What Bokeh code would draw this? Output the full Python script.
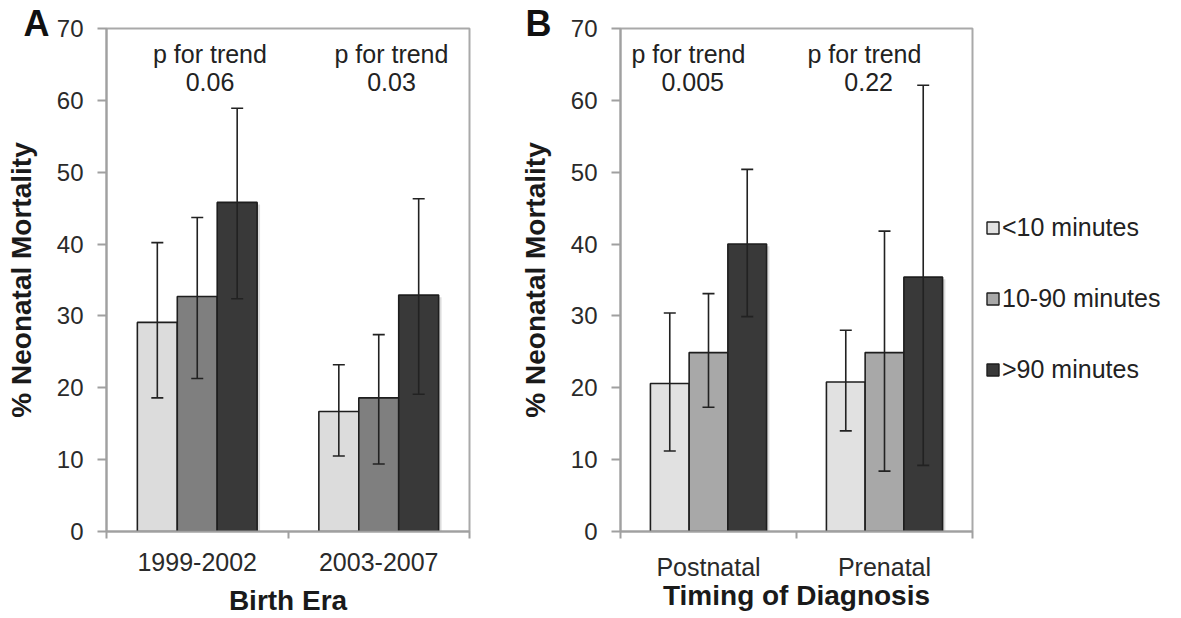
from bokeh.plotting import figure
from bokeh.models import (ColumnDataSource, Range1d, FixedTicker, Whisker, TeeHead,
                          Title, Legend, LegendItem)
from bokeh.core.properties import value
from bokeh.layouts import row
from bokeh.embed import file_html
from bokeh.resources import INLINE

FONT = "Liberation Sans"

# ---------------- data ----------------
series = ["<10 minutes", "10-90 minutes", ">90 minutes"]

# Panel A: Birth Era
era_cats = ["1999-2002", "2003-2007"]
era_lt10 = [29.1, 16.7]
era_lt10_lo = [18.6, 10.5]
era_lt10_hi = [40.2, 23.2]
era_mid = [32.7, 18.6]
era_mid_lo = [21.3, 9.4]
era_mid_hi = [43.7, 27.4]
era_gt90 = [45.8, 32.9]
era_gt90_lo = [32.4, 19.1]
era_gt90_hi = [58.9, 46.3]
era_p = ["0.06", "0.03"]

# Panel B: Timing of Diagnosis
dx_cats = ["Postnatal", "Prenatal"]
dx_lt10 = [20.6, 20.8]
dx_lt10_lo = [11.2, 14.0]
dx_lt10_hi = [30.4, 28.0]
dx_mid = [24.9, 24.9]
dx_mid_lo = [17.3, 8.4]
dx_mid_hi = [33.1, 41.8]
dx_gt90 = [40.0, 35.4]
dx_gt90_lo = [29.9, 9.2]
dx_gt90_hi = [50.4, 62.1]
dx_p = ["0.005", "0.22"]

y_ticks = [0, 10, 20, 30, 40, 50, 60, 70]

colors_A = ["#dcdcdc", "#7f7f7f", "#393939"]
colors_B = ["#e1e1e1", "#a8a8a8", "#393939"]

BAR_W = 0.22
SHADOW_DX = 0.016
FIG_H = 618


def make_panel(cats, vals, los, his, pvals, colors, xlabel, letter,
               width, borders, p_dx, v_dx, letter_off, title_standoff):
    bl, br, bt, bb = borders
    p = figure(width=width, height=FIG_H, x_range=Range1d(0, 2), y_range=Range1d(0, 70),
               output_backend="svg", toolbar_location=None,
               min_border_left=bl, min_border_right=br,
               min_border_top=bt, min_border_bottom=bb)
    p.grid.visible = False
    p.outline_line_color = "#a9a9a9"
    p.outline_line_width = 2
    p.background_fill_color = "white"
    p.border_fill_color = "white"

    centers = [i + 0.5 for i in range(len(cats))]
    for j in range(3):
        off = (j - 1) * BAR_W
        xs = [c + off for c in centers]
        src = ColumnDataSource(dict(x=xs, xs=[x + SHADOW_DX for x in xs],
                                    top=vals[j], st=[v - 0.3 for v in vals[j]],
                                    lo=los[j], hi=his[j]))
        p.vbar(x="xs", top="st", bottom=0, width=BAR_W, source=src,
               fill_color="#9a9a9a", fill_alpha=0.35, line_alpha=0)
        p.vbar(x="x", top="top", bottom=0, width=BAR_W, source=src,
               fill_color=colors[j], line_color="#1e1e1e", line_width=1.6)
        w = Whisker(source=src, base="x", upper="hi", lower="lo", level="overlay",
                    line_color="#222222", line_width=1.6,
                    upper_head=TeeHead(size=12, line_color="#222222", line_width=1.6),
                    lower_head=TeeHead(size=12, line_color="#222222", line_width=1.6))
        p.add_layout(w)

    tsrc = ColumnDataSource(dict(xp=[c + p_dx for c in centers],
                                 xv=[c + v_dx for c in centers],
                                 lab=["p for trend"] * len(cats), pv=pvals))
    p.text(x="xp", y=66.4, text="lab", source=tsrc, text_font=value(FONT),
           text_font_size=value("25px"), text_color="#222222",
           text_align="center", text_baseline="alphabetic")
    p.text(x="xv", y=62.6, text="pv", source=tsrc, text_font=value(FONT),
           text_font_size=value("25px"), text_color="#222222",
           text_align="center", text_baseline="alphabetic")

    # axes
    yax = p.yaxis[0]
    yax.ticker = FixedTicker(ticks=y_ticks, minor_ticks=[])
    yax.axis_label = "% Neonatal Mortality"
    yax.axis_label_text_font = FONT
    yax.axis_label_text_font_style = "bold"
    yax.axis_label_text_font_size = "28px"
    yax.axis_label_text_color = "#1a1a1a"
    yax.axis_label_standoff = 17
    yax.major_label_text_font = FONT
    yax.major_label_text_font_size = "24px"
    yax.major_label_text_color = "#2a2a2a"
    yax.major_label_standoff = 14
    yax.major_tick_out = 9
    yax.major_tick_in = 0
    yax.axis_line_color = "#a0a0a0"
    yax.axis_line_width = 2
    yax.major_tick_line_color = "#a0a0a0"
    yax.major_tick_line_width = 2

    xax = p.xaxis[0]
    xax.ticker = FixedTicker(ticks=centers, minor_ticks=[0, 1, 2])
    xax.major_label_overrides = {c: cat for c, cat in zip(centers, cats)}
    xax.axis_label = xlabel
    xax.axis_label_text_font = FONT
    xax.axis_label_text_font_style = "bold"
    xax.axis_label_text_font_size = "28px"
    xax.axis_label_text_color = "#1a1a1a"
    xax.axis_label_standoff = title_standoff
    xax.major_label_text_font = FONT
    xax.major_label_text_font_size = "25px"
    xax.major_label_text_color = "#2a2a2a"
    xax.major_label_standoff = 14
    xax.major_tick_out = 0
    xax.major_tick_in = 0
    xax.major_tick_line_alpha = 0
    xax.minor_tick_out = 7
    xax.minor_tick_in = 0
    xax.minor_tick_line_color = "#a0a0a0"
    xax.minor_tick_line_width = 2
    xax.axis_line_color = "#a0a0a0"
    xax.axis_line_width = 2

    # panel letter as a title pulled down beside the top tick label
    p.add_layout(Title(text=letter, align="left", offset=letter_off[0],
                       standoff=letter_off[1], vertical_align="bottom",
                       text_font=FONT, text_font_style="bold",
                       text_font_size="36px", text_color="#111111"), "above")
    return p


pA = make_panel(era_cats, [era_lt10, era_mid, era_gt90],
                [era_lt10_lo, era_mid_lo, era_gt90_lo],
                [era_lt10_hi, era_mid_hi, era_gt90_hi],
                era_p, colors_A, "Birth Era", "A",
                510, (106, 41, 28, 87), 0.07, 0.07, (-83, -30), 11)

pB = make_panel(dx_cats, [dx_lt10, dx_mid, dx_gt90],
                [dx_lt10_lo, dx_mid_lo, dx_gt90_lo],
                [dx_lt10_hi, dx_mid_hi, dx_gt90_hi],
                dx_p, colors_B, "Timing of Diagnosis", "B",
                464, (110, 2, 28, 87), -0.114, -0.09, (-95, -30), -4)

# legend panel (hidden proxy bars carry the series styling for the legend)
pL = figure(width=206, height=FIG_H, x_range=Range1d(0, 1), y_range=Range1d(0, 1),
            output_backend="svg", toolbar_location=None, min_border=0)
pL.axis.visible = False
pL.grid.visible = False
pL.outline_line_color = None
series_first = [dx_lt10[0], dx_mid[0], dx_gt90[0]]
legend_renderers = []
for c, v in zip(colors_B, series_first):
    r = pL.vbar(x=[0.5], top=[v], bottom=0, width=0.1, fill_color=c,
                line_color="#1e1e1e", line_width=1.4)
    r.visible = False
    legend_renderers.append(r)
leg = Legend(items=[LegendItem(label=s, renderers=[r])
                    for s, r in zip(series, legend_renderers)],
             location=(11, 147), orientation="vertical",
             label_text_font=FONT, label_text_font_size="25px",
             label_text_color="#222222",
             glyph_width=15, glyph_height=15, label_standoff=2,
             spacing=42, padding=0, margin=0,
             border_line_alpha=0, background_fill_alpha=0)
pL.add_layout(leg)

layout = row(pA, pB, pL)
open("out.html", "w").write(file_html(layout, INLINE))
